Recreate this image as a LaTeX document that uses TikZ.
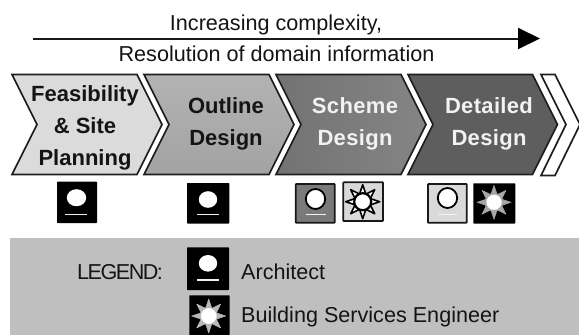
\documentclass[tikz,border=0pt]{standalone}
\usepackage{fontspec}
\setmainfont{Liberation Sans}
\usetikzlibrary{calc,arrows.meta}
\newcommand{\sunray}[5]{% cx cy fill stroke lw
  \foreach \a in {0,45,...,315}{
    \draw[fill=#3,draw=#4,line width=#5,line join=round]
      ($(#1,#2)+(\a-21:8.5)$) -- ($(#1,#2)+(\a:17)$) -- ($(#1,#2)+(\a+21:8.5)$) -- cycle;
  }
}
\tikzset{
  x=1pt,y=-1pt,
  chev/.style={draw=black!88,line width=1.7,line join=miter},
  darktext/.style={align=center,inner sep=0,font=\fontsize{22}{32}\bfseries\selectfont,text=black!92},
  lighttext/.style={align=center,inner sep=0,font=\fontsize{22}{32}\bfseries\addfontfeature{LetterSpace=1.5}\selectfont,text=white!95!black},
  plain/.style={inner sep=0,anchor=base west,font=\fontsize{21.6}{26}\selectfont,text=black!92},
  icon/.style={draw=black!90,line width=1.7,rounded corners=0.6},
  underbar/.style={draw=white!95!black,line width=1.5},
}
\begin{document}
\begin{tikzpicture}
\useasboundingbox (0,0) rectangle (579,335);
\fill[white] (0,0) rectangle (579,335);
% legend band
\fill[black!25] (10,238) rectangle (579,335);
% top arrow
\coordinate (arrowstart) at (33,38.5);
\coordinate (arrowend) at (540,38.5);
\draw[line width=2,black!90,-{Triangle[length=22,width=21,black]}] (arrowstart) -- (arrowend);
\node[plain,anchor=base] (lineone) at (276,30) {Increasing complexity,};
\node[plain,anchor=base] (linetwo) at (276.5,61) {Resolution of domain information};
% chevrons
\draw[chev,fill=black!14] (12,74.5) -- (137,74.5) -- (162,124.5) -- (137,174.5) -- (12,174.5) -- (37,124.5) -- cycle;
\draw[chev,top color=black!30,bottom color=black!36] (144,74.5) -- (269,74.5) -- (294,124.5) -- (269,174.5) -- (144,174.5) -- (169,124.5) -- cycle;
\draw[chev,left color=black!55,right color=black!48] (276,74.5) -- (401,74.5) -- (426,124.5) -- (401,174.5) -- (276,174.5) -- (301,124.5) -- cycle;
\draw[chev,fill=black!63] (408,74.5) -- (532.5,74.5) -- (557.5,124.5) -- (532.5,174.5) -- (408,174.5) -- (433,124.5) -- cycle;
\begin{scope}
\clip (535,70) rectangle (579,180);
\draw[chev,fill=white] (541,74.5) -- (555,74.5) -- (580,124.5) -- (555,175.5) -- (541,175.5) -- (566,124.5) -- cycle;
\end{scope}
\node[darktext] (feas) at (85,127.5) {Feasibility\\\& Site\\Planning};
\node[darktext] (outl) at (226,124) {Outline\\Design};
\node[lighttext] (sche) at (355,124) {Scheme\\Design};
\node[lighttext] (deta) at (489,124) {Detailed\\Design};
% icon 1
\fill[black,rounded corners=0.6] (57,181.7) rectangle (97,223);
\fill[white] (76.5,197.7) ellipse (9.7 and 8.5);
\draw[underbar] (65,214.3) -- (87,214.3);
% icon 2
\fill[black,rounded corners=0.6] (187,183) rectangle (229.3,223.5);
\fill[white] (208,199.5) ellipse (9.2 and 8.3);
\draw[underbar] (197,214.3) -- (219,214.3);
% icon 3
\draw[icon,fill=black!52] (295.7,184) rectangle (334.7,222.7);
\draw[fill=white,draw=black,line width=1.8] (315.5,199) ellipse (9.7 and 10);
\draw[underbar] (305.5,214.3) -- (325.5,214.3);
% icon 4
\draw[icon,fill=black!15] (343.3,182.3) rectangle (383,221);
\sunray{362.7}{201.7}{white}{black}{1.6}
\draw[fill=white,draw=black,line width=2.2] (362.7,201.7) circle (8.5);
% icon 5
\draw[icon,fill=black!15] (428,184) rectangle (466.7,222.7);
\draw[fill=white,draw=black,line width=1.8] (447.5,198) ellipse (9.7 and 10);
\draw[underbar] (438,214.3) -- (457,214.3);
% icon 6
\fill[black,rounded corners=0.6] (473.3,183.3) rectangle (515.3,223.5);
\sunray{494}{202.3}{black!35}{black!35}{0.5}
\draw[fill=white,draw=black!35,line width=1.5] (494,202.3) circle (8.5);
% legend
\node[plain,font=\fontsize{21.6}{26}\addfontfeature{LetterSpace=-7}\selectfont] (legend) at (77,279) {LEGEND:};
\fill[black,rounded corners=0.6] (187,247.3) rectangle (229,290);
\fill[white] (208,263.3) ellipse (9.2 and 8.3);
\draw[underbar] (197,280) -- (219,280);
\node[plain] (arch) at (241,279) {Architect};
\fill[black,rounded corners=0.6] (189.3,295.3) rectangle (229.7,335);
\sunray{208.7}{316}{black!28}{black!28}{0.5}
\draw[fill=white,draw=black!28,line width=1] (208.7,316) circle (8.5);
\node[plain] (bse) at (241,322) {Building Services Engineer};
\end{tikzpicture}
\end{document}
